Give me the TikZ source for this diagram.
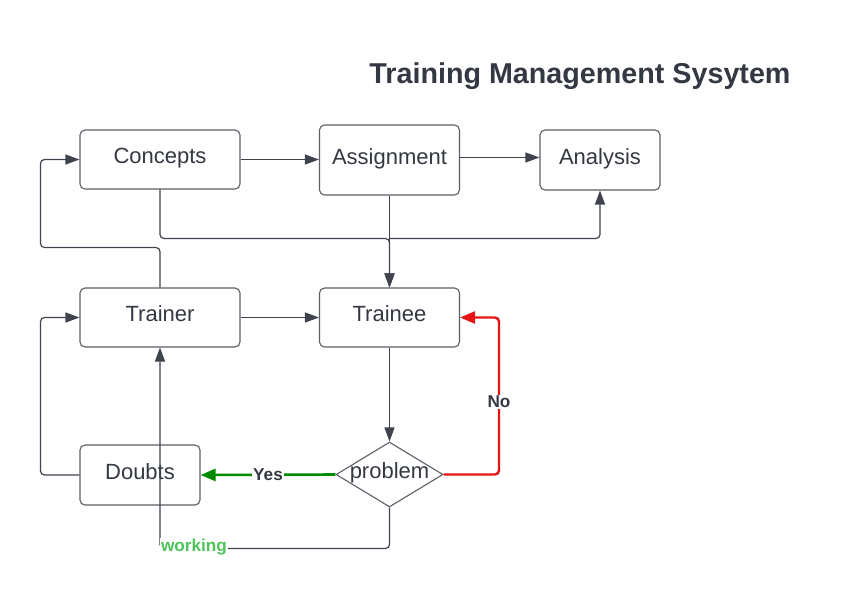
\documentclass[tikz,border=0pt]{standalone}
\usepackage{fontspec}
\setmainfont{Liberation Sans}
\usetikzlibrary{arrows.meta,shapes.geometric}
\definecolor{edge}{RGB}{62,67,77}
\definecolor{txt}{RGB}{51,56,66}
\definecolor{yesgreen}{RGB}{0,138,0}
\definecolor{nored}{RGB}{232,20,20}
\definecolor{workgreen}{RGB}{78,196,90}
\begin{document}
\begin{tikzpicture}[x=1pt,y=-1pt,
  box/.style={draw=edge!85, line width=1.1pt, rounded corners=5pt, fill=white, inner sep=0pt,
    text height=15pt, text depth=6.4pt,
    text=txt, font=\fontsize{22}{24}\selectfont},
  dia/.style={draw=edge!85, line width=1.1pt, diamond, aspect=1.65, fill=white, inner sep=-5pt,
    text height=15pt, text depth=6.4pt,
    minimum width=107pt, minimum height=65pt, text=txt, font=\fontsize{22}{24}\selectfont},
  conn/.style={draw=edge, line width=1.2pt, rounded corners=4pt, -{Triangle[length=14pt,width=10pt]}},
  lbl/.style={font=\bfseries\fontsize{17.2}{18}\selectfont, fill=white, inner sep=1pt}
]
\useasboundingbox (0,0) rectangle (861,599);
\fill[white] (0,0) rectangle (861,599);

\node[text=txt, font=\bfseries\fontsize{28.7}{32}\selectfont] (title) at (580,76) {Training Management Sysytem};

\node[box, minimum width=160pt, minimum height=59pt] (concepts) at (160,159.5) {Concepts};
\node[box, minimum width=140pt, minimum height=70pt] (assignment) at (389.5,160) {Assignment};
\node[box, minimum width=120pt, minimum height=60pt] (analysis) at (600,160) {Analysis};
\node[box, minimum width=160pt, minimum height=59pt] (trainer) at (160,317.5) {Trainer};
\node[box, minimum width=140pt, minimum height=59pt] (trainee) at (389.5,317.5) {Trainee};
\node[box, minimum width=120pt, minimum height=60pt] (doubts) at (140,475) {Doubts};
\node[dia] (problem) at (389.5,474.5) {problem};

\coordinate (jn) at (389.5,238.5);
\coordinate (tl) at (40.5,247.5);
\coordinate (dl) at (40.5,475);
\coordinate (rc) at (499,317.5);
\coordinate (wk) at (160,548.5);

\draw[conn] (concepts.east) -- (concepts.east -| assignment.west);
\draw[conn] (assignment.east |- 0,157.5) -- (analysis.west |- 0,157.5);
\draw[conn] (concepts.south) |- (jn) -- (trainee.north);
\draw[conn] (assignment.south) -- (trainee.north);
\draw[conn] (jn) -| (analysis.south);
\draw[conn] (trainer.north) |- (tl) |- (concepts.west);
\draw[conn] (trainer.east) -- (trainee.west);
\draw[conn] (doubts.west) -- (dl) |- (trainer.west);
\draw[conn] (trainee.south) -- (problem.north);
\draw[conn, draw=yesgreen, line width=2.6pt, -{Triangle[length=15pt,width=12pt]}] (problem.west) -- node[lbl, text=txt, pos=0.5] {Yes} (doubts.east);
\draw[conn, draw=nored, line width=2.4pt, -{Triangle[length=15pt,width=12pt]}] (problem.east) -| (rc) -- (trainee.east);
\node[lbl, text=txt] (nolbl) at (499,402) {No};
\draw[conn] (problem.south) |- (wk) -- (trainer.south);
\node[lbl, text=workgreen] (wlbl) at (194,547) {working};
\end{tikzpicture}
\end{document}
